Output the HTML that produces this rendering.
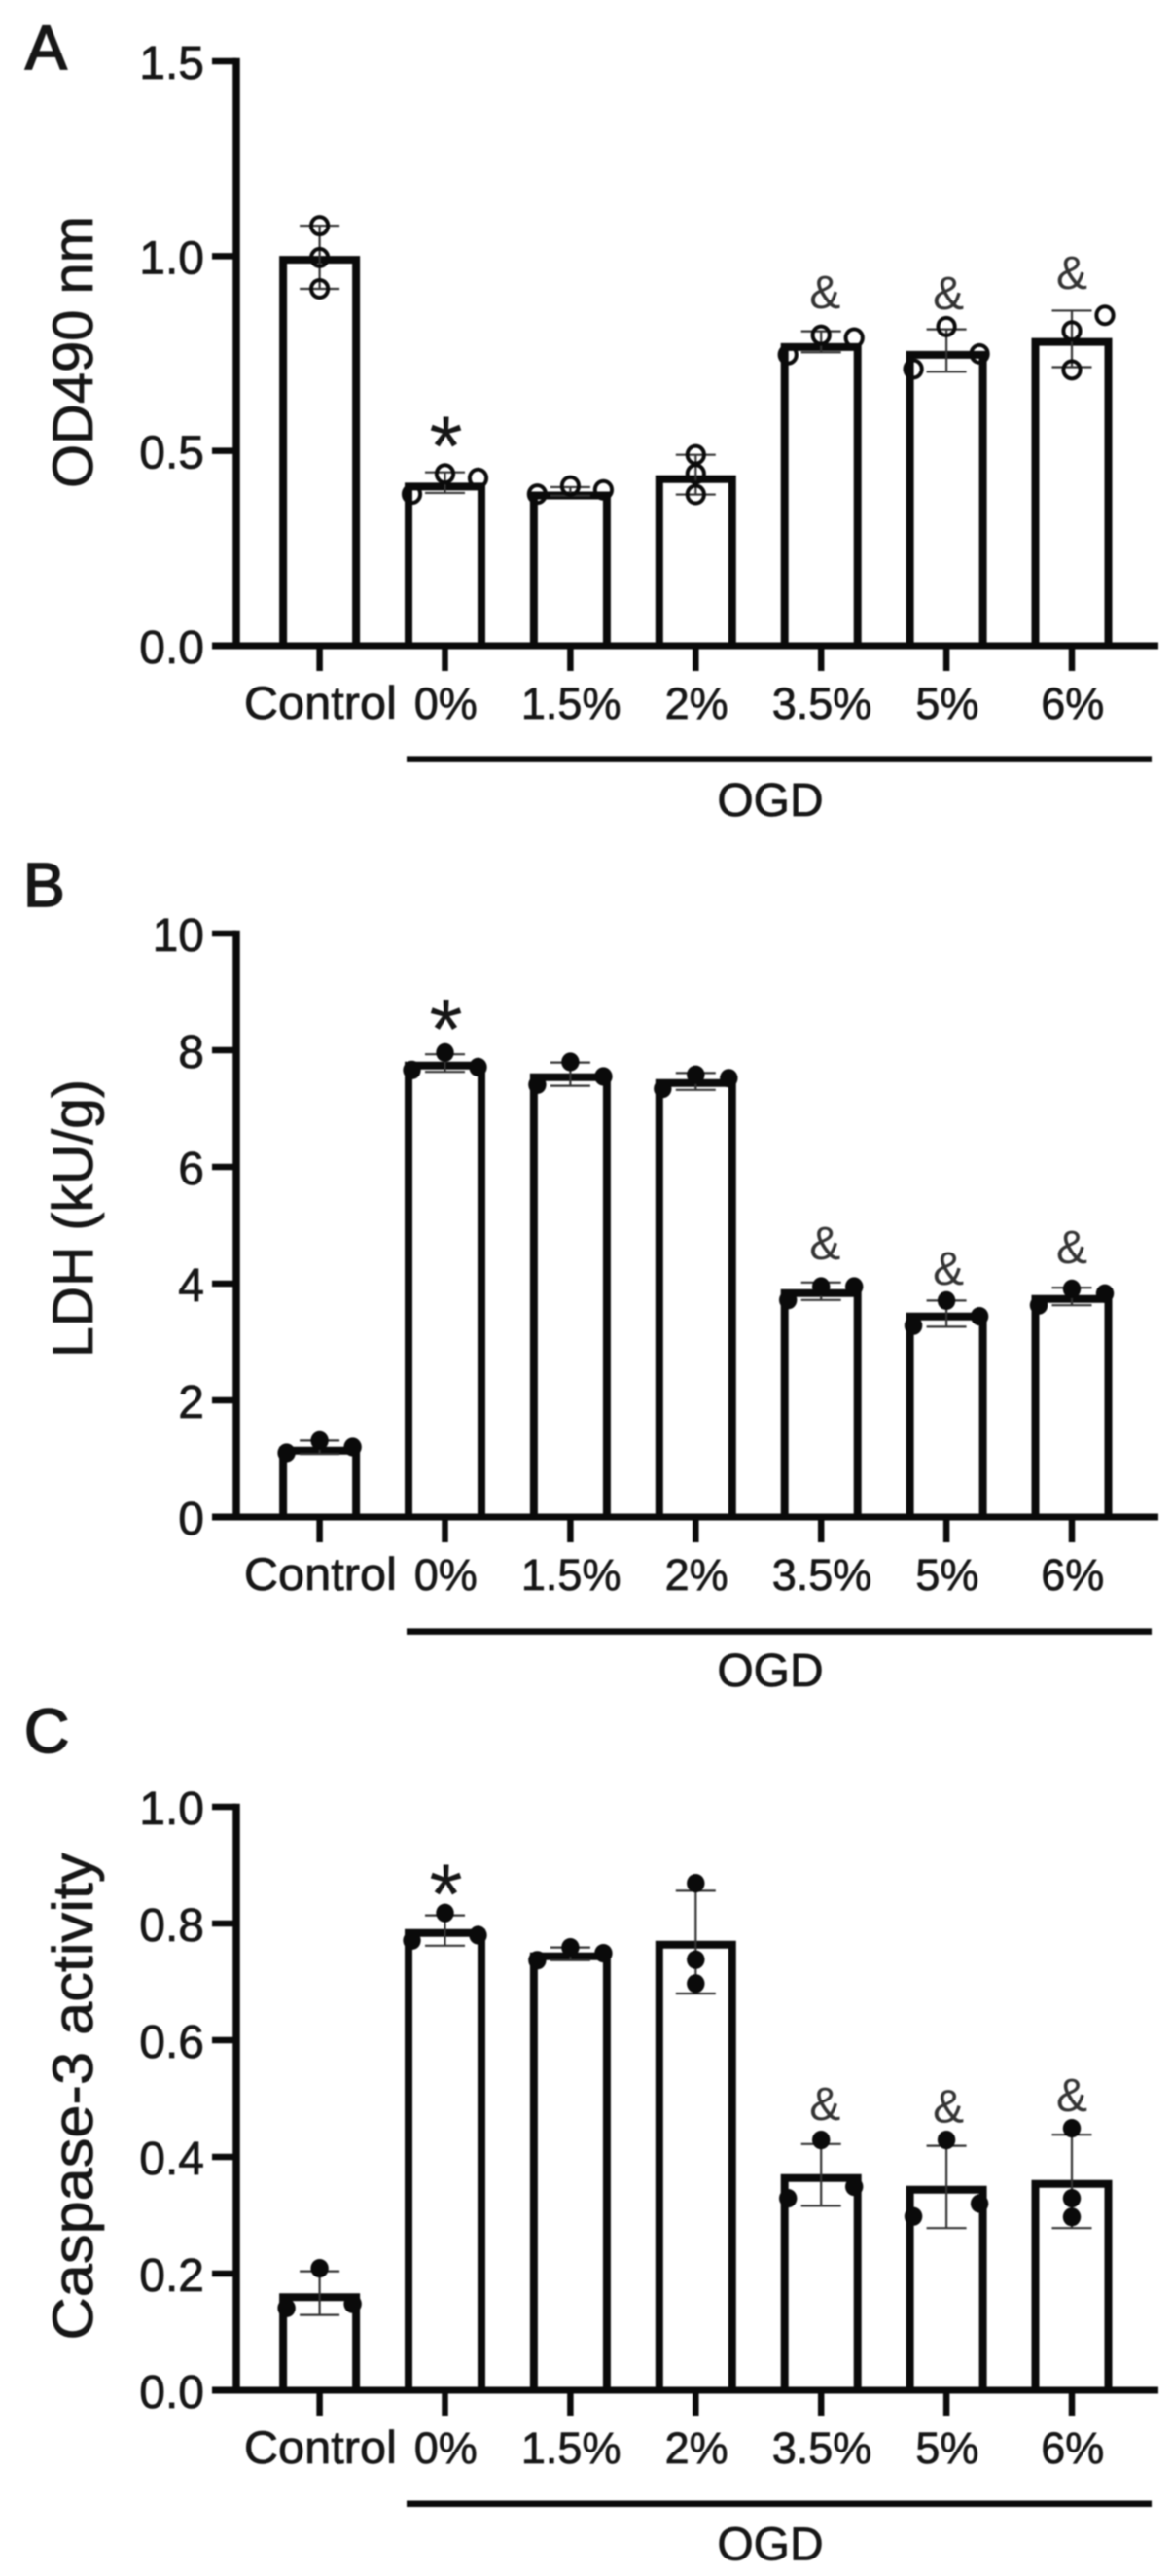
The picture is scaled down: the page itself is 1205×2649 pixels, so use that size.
<!DOCTYPE html>
<html lang="en">
<head>
<meta charset="utf-8">
<title>OD490, LDH and Caspase-3 activity bar charts</title>
<style>
html,body{margin:0;padding:0;background:#fff;}
body{width:1205px;height:2649px;overflow:hidden;}
svg{display:block;filter:blur(0.7px);}
text{font-family:"Liberation Sans",sans-serif;fill:#161616;stroke:#161616;stroke-width:0.7px;}
</style>
</head>
<body>
<svg id="figure" xmlns="http://www.w3.org/2000/svg" width="1205" height="2649" viewBox="0 0 1205 2649"></svg>
<script>
const categories = ['Control', '0%', '1.5%', '2%', '3.5%', '5%', '6%'];

/* Panel A */
const aTickValues = [0, 0.5, 1, 1.5];
const aTickLabels = ['0.0', '0.5', '1.0', '1.5'];
const aMeans = [1.0, 0.418, 0.395, 0.437, 0.776, 0.756, 0.789];
const aErrHigh = [1.078, 0.445, 0.407, 0.490, 0.807, 0.812, 0.860];
const aErrLow = [0.916, 0.392, 0.385, 0.388, 0.753, 0.703, 0.715];
const aPoints = [[1.078, 0.996, 0.916], [0.389, 0.441, 0.430], [0.389, 0.410, 0.400], [0.490, 0.441, 0.388], [0.747, 0.797, 0.790], [0.710, 0.819, 0.749], [0.808, 0.708, 0.848]];
const aSlots = [[0, 0, 0], [-1, 0, 1], [-1, 0, 1], [0, 0, 0], [-1, 0, 1], [-1, 0, 1], [0, 0, 1]];
const aMarks = ['', '*', '', '', '&', '&', '&'];
const aMarkValues = [0, 0.514, 0, 0, 0.866, 0.863, 0.916];

/* Panel B */
const bTickValues = [0, 2, 4, 6, 8, 10];
const bTickLabels = ['0', '2', '4', '6', '8', '10'];
const bMeans = [1.2, 7.8, 7.6, 7.5, 3.9, 3.5, 3.8];
const bErrHigh = [1.31, 7.93, 7.79, 7.61, 4.02, 3.71, 3.93];
const bErrLow = [1.08, 7.63, 7.39, 7.32, 3.72, 3.26, 3.63];
const bPoints = [[1.10, 1.31, 1.20], [7.66, 7.96, 7.71], [7.41, 7.80, 7.55], [7.34, 7.58, 7.52], [3.72, 3.95, 3.95], [3.28, 3.71, 3.44], [3.63, 3.91, 3.83]];
const bSlots = [[-1, 0, 1], [-1, 0, 1], [-1, 0, 1], [-1, 0, 1], [-1, 0, 1], [-1, 0, 1], [-1, 0, 1]];
const bMarks = ['', '*', '', '', '&', '&', '&'];
const bMarkValues = [0, 8.375, 0, 0, 4.42, 3.98, 4.35];

/* Panel C */
const cTickValues = [0, 0.2, 0.4, 0.6, 0.8, 1];
const cTickLabels = ['0.0', '0.2', '0.4', '0.6', '0.8', '1.0'];
const cMeans = [0.166, 0.79, 0.75, 0.77, 0.37, 0.35, 0.36];
const cErrHigh = [0.204, 0.814, 0.759, 0.856, 0.422, 0.419, 0.438];
const cErrLow = [0.129, 0.762, 0.737, 0.680, 0.316, 0.278, 0.278];
const cPoints = [[0.141, 0.209, 0.148], [0.771, 0.818, 0.780], [0.737, 0.759, 0.749], [0.869, 0.738, 0.697], [0.329, 0.429, 0.349], [0.298, 0.429, 0.320], [0.449, 0.329, 0.297]];
const cSlots = [[-1, 0, 1], [-1, 0, 1], [-1, 0, 1], [0, 0, 0], [-1, 0, 1], [-1, 0, 1], [0, 0, 0]];
const cMarks = ['', '*', '', '', '&', '&', '&'];
const cMarkValues = [0, 0.852, 0, 0, 0.463, 0.459, 0.478];

const NS = 'http://www.w3.org/2000/svg';
const root = document.getElementById('figure');

function make(parent, tag, attrs, txt) {
  const node = document.createElementNS(NS, tag);
  for (const k in attrs) node.setAttribute(k, attrs[k]);
  if (txt !== undefined) node.textContent = txt;
  parent.appendChild(node);
  return node;
}

function xCat(i) { return 328.6 + i * 128.9; }

function drawPanel(p) {
  const yPos = v => p.y0 - (v / p.max) * p.axisHeight;
  const dark = '#0a0a0a';

  const g = make(root, 'g', {});
  
  

  const letter = make(g, 'text', { x: p.letterX, y: p.letterY, 'font-size': 64, style: 'stroke-width:1.8px' }, p.letter);
  
  

  const title = make(g, 'text', {
    transform: 'translate(95,' + p.titleY + ') rotate(-90)',
    'text-anchor': 'middle', 'font-size': 58,
    textLength: p.titleLength, lengthAdjust: 'spacingAndGlyphs'
  }, p.title);
  
  

  /* bars */
  p.means.forEach((v, i) => {
    const c = xCat(i);
    const top = yPos(v) + 3.8;
    const bar = make(g, 'path', {
      d: 'M' + (c - 37.5) + ' ' + p.y0 + 'V' + top + 'H' + (c + 37.5) + 'V' + p.y0,
      fill: '#fff', stroke: dark, 'stroke-width': 8
    });
    
    
  });

  /* y axis */
  const yAxis = make(g, 'line', { x1: 243, x2: 243, y1: yPos(p.max) - 3.2, y2: p.y0 + 3, stroke: dark, 'stroke-width': 7.5 });
  
  

  p.tickValues.forEach((v, i) => {
    const y = yPos(v);
    const tick = make(g, 'line', { x1: 218, x2: 243, y1: y, y2: y, stroke: dark, 'stroke-width': 6.5 });
    
    
    const label = make(g, 'text', { x: 210, y: y + 18, 'text-anchor': 'end', 'font-size': 48 }, p.tickLabels[i]);
    
    
  });

  /* x axis */
  const xAxis = make(g, 'line', { x1: 218, x2: 1191, y1: p.y0, y2: p.y0, stroke: dark, 'stroke-width': 7 });
  
  

  categories.forEach((cat, i) => {
    const c = xCat(i);
    const tick = make(g, 'line', { x1: c, x2: c, y1: p.y0, y2: p.y0 + 26, stroke: dark, 'stroke-width': 6.5 });
    
    
    const labelAttrs = { x: c + 0.8, y: p.y0 + 75, 'text-anchor': 'middle', 'font-size': i === 0 ? 47 : 45 };
    if (i === 0) { labelAttrs.textLength = 157; labelAttrs.lengthAdjust = 'spacingAndGlyphs'; }
    const label = make(g, 'text', labelAttrs, cat);
    
    
  });

  /* error bars */
  p.errHigh.forEach((hi, i) => {
    const c = xCat(i);
    const yh = yPos(hi);
    const yl = yPos(p.errLow[i]);
    const err = make(g, 'path', {
      d: 'M' + (c - 20.5) + ' ' + yh + 'H' + (c + 20.5) + 'M' + c + ' ' + yh + 'V' + yl + 'M' + (c - 20.5) + ' ' + yl + 'H' + (c + 20.5),
      fill: 'none', stroke: '#333', 'stroke-width': 2.2
    });
    
    
  });

  /* data points */
  p.points.forEach((group, i) => {
    group.forEach((v, j) => {
      const slot = p.slots[i][j];
      const dot = make(g, 'ellipse', {
        cx: xCat(i) + slot * 34, cy: yPos(v),
        rx: p.hollow ? 8.6 : 9.2, ry: p.hollow ? 9 : 9.6,
        fill: p.hollow ? 'none' : dark,
        stroke: p.hollow ? dark : 'none',
        'stroke-width': 4
      });
      
      
    });
  });

  /* significance marks */
  p.marks.forEach((m, i) => {
    if (!m) return;
    const isStar = m === '*';
    const mark = make(g, 'text', {
      x: xCat(i) + (isStar ? 1 : (6 - i) * 2),
      y: yPos(p.markValues[i]) + (isStar ? 31 : 0),
      'text-anchor': 'middle',
      'font-size': isStar ? 88 : 48,
      style: isStar ? 'stroke-width:0' : 'fill:#333;stroke-width:0'
    }, m);
    
    
  });

  /* OGD bracket */
  const bracket = make(g, 'line', { x1: 418, x2: 1184, y1: p.lineY, y2: p.lineY, stroke: dark, 'stroke-width': 6.5 });
  
  
  const ogd = make(g, 'text', { x: 792, y: p.ogdY, 'text-anchor': 'middle', 'font-size': 48 }, 'OGD');
  
  
}

drawPanel({
  id: 'a', letter: 'A', letterX: 26, letterY: 71,
  title: 'OD490 nm', titleY: 362, titleLength: 280,
  y0: 664, axisHeight: 601, max: 1.5, hollow: true,
  tickValues: aTickValues, tickLabels: aTickLabels,
  means: aMeans, errHigh: aErrHigh, errLow: aErrLow,
  points: aPoints, slots: aSlots, marks: aMarks, markValues: aMarkValues,
  lineY: 780.6, ogdY: 839
});
drawPanel({
  id: 'b', letter: 'B', letterX: 24, letterY: 932,
  title: 'LDH (kU/g)', titleY: 1253, titleLength: 286,
  y0: 1560, axisHeight: 600, max: 10, hollow: false,
  tickValues: bTickValues, tickLabels: bTickLabels,
  means: bMeans, errHigh: bErrHigh, errLow: bErrLow,
  points: bPoints, slots: bSlots, marks: bMarks, markValues: bMarkValues,
  lineY: 1677.6, ogdY: 1734
});
drawPanel({
  id: 'c', letter: 'C', letterX: 25, letterY: 1802,
  title: 'Caspase-3 activity', titleY: 2156, titleLength: 501,
  y0: 2458, axisHeight: 600, max: 1, hollow: false,
  tickValues: cTickValues, tickLabels: cTickLabels,
  means: cMeans, errHigh: cErrHigh, errLow: cErrLow,
  points: cPoints, slots: cSlots, marks: cMarks, markValues: cMarkValues,
  lineY: 2574.7, ogdY: 2632.7
});
</script>
</body>
</html>
